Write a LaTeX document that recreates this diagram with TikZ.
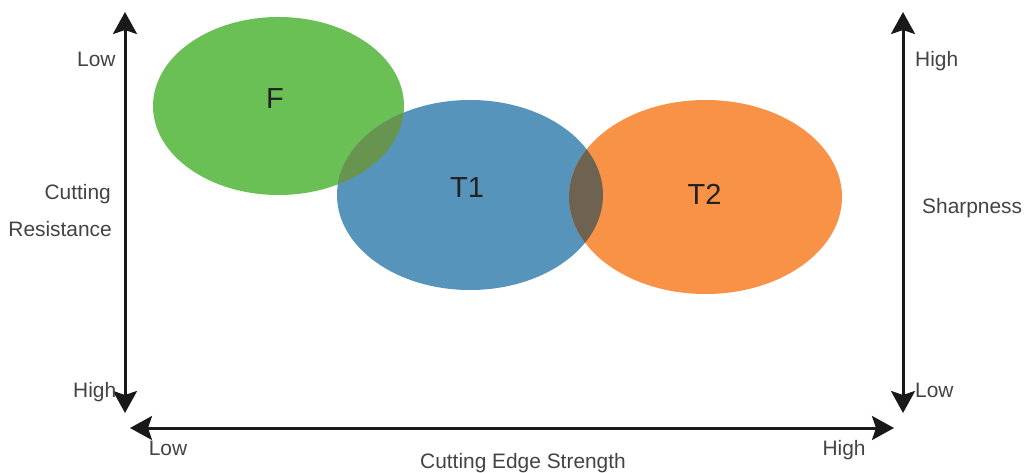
\documentclass[tikz,border=0pt]{standalone}
\usepackage{fontspec}
\setmainfont{Liberation Sans}
\usetikzlibrary{arrows.meta}
\definecolor{cgreen}{HTML}{6ABF55}
\definecolor{cblue}{HTML}{5794BB}
\definecolor{corange}{HTML}{F79246}
\definecolor{covA}{HTML}{67944F}
\definecolor{covB}{HTML}{6E6350}
\definecolor{ctext}{HTML}{222222}
\tikzset{
  axis/.style={line width=3pt, black!90, {Stealth[length=22pt,width=24pt,inset=4pt]}-{Stealth[length=22pt,width=24pt,inset=4pt]}},
  lbl/.style={font=\fontsize{20.9}{24}\selectfont, text=ctext!85, inner sep=0pt, anchor=base},
  big/.style={font=\fontsize{29}{32}\selectfont, text=ctext, inner sep=0pt, anchor=base},
}
\begin{document}
\begin{tikzpicture}[x=1pt,y=-1pt]
\useasboundingbox (0,0) rectangle (1024,473);
% ellipses
\fill[cgreen] (278.5,106) ellipse [x radius=125.5, y radius=89];
\fill[cblue] (470,195) ellipse [x radius=133, y radius=95];
\fill[corange] (705.5,197) ellipse [x radius=136.5, y radius=97];
\begin{scope}
  \clip (278.5,106) ellipse [x radius=125.5, y radius=89];
  \fill[covA] (470,195) ellipse [x radius=133, y radius=95];
\end{scope}
\begin{scope}
  \clip (470,195) ellipse [x radius=133, y radius=95];
  \fill[covB] (705.5,197) ellipse [x radius=136.5, y radius=97];
\end{scope}
\node[big] (F) at (275,109) {F};
\node[big] (T1) at (467,197) {T1};
\node[big] (T2) at (704.5,204) {T2};
% axes
\coordinate (lt) at (125,12);
\coordinate (lb) at (125,413);
\coordinate (rt) at (903,12);
\coordinate (rb) at (903,413);
\coordinate (bl) at (130,428);
\coordinate (br) at (894,428);
\draw[axis] (lb) -- (lt);
\draw[axis] (rb) -- (rt);
\draw[axis] (bl) -- (br);
% labels
\node[lbl, anchor=base west] (lowL) at (77,67) {Low};
\node[lbl, anchor=base west] (highL) at (73,397) {High};
\node[lbl, anchor=base east] (cut) at (111,199) {Cutting};
\node[lbl, anchor=base east] (res) at (112,236) {Resistance};
\node[lbl, anchor=base west] (highR) at (915,67) {High};
\node[lbl, anchor=base west] (lowR) at (915,397) {Low};
\node[lbl, anchor=base west] (sharp) at (922,213) {Sharpness};
\node[lbl] (lowB) at (168,455) {Low};
\node[lbl] (highB) at (844,455) {High};
\node[lbl] (ces) at (523,468) {Cutting Edge Strength};
\end{tikzpicture}
\end{document}
